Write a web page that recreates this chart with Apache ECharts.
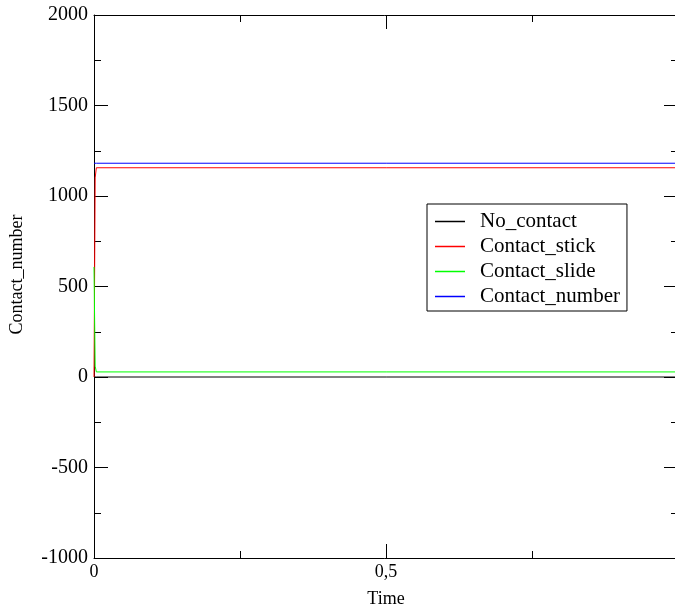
<!DOCTYPE html>
<html>
<head>
<meta charset="utf-8">
<script src="https://cdn.jsdelivr.net/npm/echarts@6/dist/echarts.min.js"></script>
<style>html,body{margin:0;padding:0;background:#fff}#c{width:675px;height:609px}</style>
</head>
<body>
<div id="c"></div>
<script>
var time          = [0, 0.002, 0.004, 1.0];
var noContact     = [0, 0, 0, 0];
var contactStick  = [0, 1100, 1156, 1156];
var contactSlide  = [608, 60, 28, 28];
var contactNumber = [1181, 1181, 1181, 1181];
var seriesNames   = ['No_contact', 'Contact_stick', 'Contact_slide', 'Contact_number'];
var seriesColors  = ['#000000', '#ff0000', '#00ff00', '#0000ff'];
var yTicks = [-1000, -500, 0, 500, 1000, 1500, 2000];

function pairs(vals){ return time.map(function(t,i){ return [t, vals[i]]; }); }
var allVals = [noContact, contactStick, contactSlide, contactNumber];

var font = 'Liberation Serif';
var chart = echarts.init(document.getElementById('c'), null, {renderer:'canvas'});
var axisLineStyle = {color:'#000', width:1};
var option = {
  animation:false,
  backgroundColor:'#fff',
  grid:{left:94, top:15, width:584, height:543, containLabel:false, outerBoundsMode:'none'},
  legend:{
    left:427, top:204, orient:'vertical',
    data:seriesNames.map(function(n,i){return {name:n, icon:'rect', itemStyle:{color:seriesColors[i], borderWidth:0}};}),
    itemWidth:30, itemHeight:1.5, itemGap:4,
    padding:[7,7,4,8],
    borderColor:'#000', borderWidth:1, backgroundColor:'#fff',
    textStyle:{fontFamily:font, fontSize:21, color:'#000', padding:[0,0,0,10]}
  },
  xAxis:[{
    type:'value', min:0, max:1, interval:0.5, position:'bottom',
    name:'Time', nameLocation:'middle', nameGap:32,
    nameTextStyle:{fontFamily:font, fontSize:18, color:'#000'},
    axisLine:{show:true, onZero:false, lineStyle:axisLineStyle},
    axisTick:{show:true, inside:true, length:14, lineStyle:axisLineStyle},
    minorTick:{show:true, splitNumber:2, length:7, lineStyle:axisLineStyle},
    splitLine:{show:false},
    axisLabel:{fontFamily:font, fontSize:18, color:'#000', margin:5,
      formatter:function(v){ return v>=1 ? '' : String(v).replace('.', ','); }}
  },{
    type:'value', min:0, max:1, interval:0.5, position:'top',
    axisLine:{show:true, onZero:false, lineStyle:axisLineStyle},
    axisTick:{show:true, inside:true, length:14, lineStyle:axisLineStyle},
    minorTick:{show:true, splitNumber:2, length:7, lineStyle:axisLineStyle},
    splitLine:{show:false}, axisLabel:{show:false}
  }],
  yAxis:[{
    type:'value', min:yTicks[0], max:yTicks[yTicks.length-1], interval:500, position:'left',
    name:'Contact_number', nameLocation:'middle', nameGap:68,
    nameTextStyle:{fontFamily:font, fontSize:18, color:'#000', padding:[0,0,0,24]},
    axisLine:{show:true, onZero:false, lineStyle:axisLineStyle},
    axisTick:{show:true, inside:true, length:14, lineStyle:axisLineStyle},
    minorTick:{show:true, splitNumber:2, length:7, lineStyle:axisLineStyle},
    splitLine:{show:false},
    axisLabel:{fontFamily:font, fontSize:20, color:'#000', margin:6,
      formatter:function(v){ return String(v); }}
  },{
    type:'value', min:yTicks[0], max:yTicks[yTicks.length-1], interval:500, position:'right',
    axisLine:{show:true, onZero:false, lineStyle:axisLineStyle},
    axisTick:{show:true, inside:true, length:14, lineStyle:axisLineStyle},
    minorTick:{show:true, splitNumber:2, length:7, lineStyle:axisLineStyle},
    splitLine:{show:false}, axisLabel:{show:false}
  }],
  series: seriesNames.map(function(n,i){
    return {
      name:n, type:'line', xAxisIndex:0, yAxisIndex:0,
      data:pairs(allVals[i]), showSymbol:false, symbol:'none',
      lineStyle:{color:seriesColors[i], width:1}, itemStyle:{color:seriesColors[i]},
      z:2+i
    };
  })
};
chart.setOption(option);
</script>
</body>
</html>
